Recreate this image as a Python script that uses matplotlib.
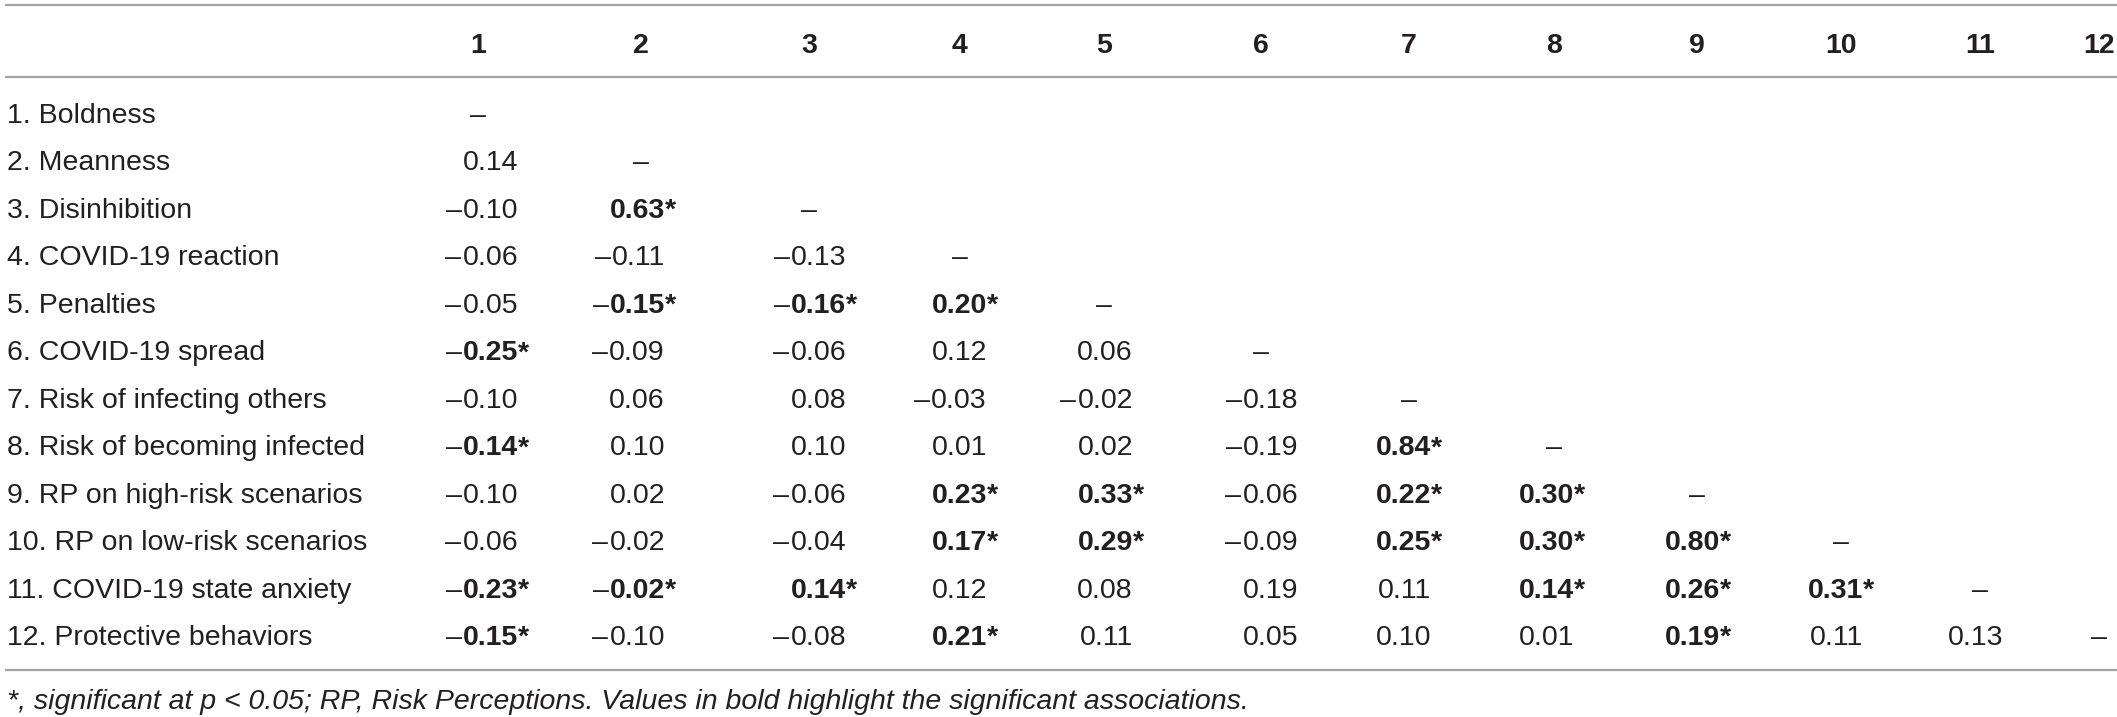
import matplotlib
matplotlib.use("Agg")
import matplotlib.pyplot as plt

# table content
row_labels = [
    "1. Boldness",
    "2. Meanness",
    "3. Disinhibition",
    "4. COVID-19 reaction",
    "5. Penalties",
    "6. COVID-19 spread",
    "7. Risk of infecting others",
    "8. Risk of becoming infected",
    "9. RP on high-risk scenarios",
    "10. RP on low-risk scenarios",
    "11. COVID-19 state anxiety",
    "12. Protective behaviors",
]
col_labels = [str(i) for i in range(1, 13)]

# lower triangle, row by row
corr = [
    [],
    [0.14],
    [-0.10, 0.63],
    [-0.06, -0.11, -0.13],
    [-0.05, -0.15, -0.16, 0.20],
    [-0.25, -0.09, -0.06, 0.12, 0.06],
    [-0.10, 0.06, 0.08, -0.03, -0.02, -0.18],
    [-0.14, 0.10, 0.10, 0.01, 0.02, -0.19, 0.84],
    [-0.10, 0.02, -0.06, 0.23, 0.33, -0.06, 0.22, 0.30],
    [-0.06, -0.02, -0.04, 0.17, 0.29, -0.09, 0.25, 0.30, 0.80],
    [-0.23, -0.02, 0.14, 0.12, 0.08, 0.19, 0.11, 0.14, 0.26, 0.31],
    [-0.15, -0.10, -0.08, 0.21, 0.11, 0.05, 0.10, 0.01, 0.19, 0.11, 0.13],
]
signif = [
    [],
    [0],
    [0, 1],
    [0, 0, 0],
    [0, 1, 1, 1],
    [1, 0, 0, 0, 0],
    [0, 0, 0, 0, 0, 0],
    [1, 0, 0, 0, 0, 0, 1],
    [0, 0, 0, 1, 1, 0, 1, 1],
    [0, 0, 0, 1, 1, 0, 1, 1, 1],
    [1, 1, 1, 0, 0, 0, 0, 1, 1, 1],
    [1, 0, 0, 1, 0, 0, 0, 0, 1, 0, 0],
]
footnote = ("*, significant at p < 0.05; RP, Risk Perceptions. "
            "Values in bold highlight the significant associations.")

# layout (pixels)
W, H = 2117, 717
col_center = [478, 641, 809, 960, 1104, 1261, 1409, 1554, 1697, 1841, 1980, 2099]
col_right = [518, 665, 846, 987, 1133, 1298, 1431, 1574, 1720, 1863, 2003, 2120]
label_x = 7
header_y = 43
row_y0, row_dy = 113, 47.45
lines_y = [5, 77, 670]
foot_y = 699
fs = 20.5
txt_color = "#231f20"
fam = ["Liberation Sans", "DejaVu Sans"]

fig = plt.figure(figsize=(W / 100, H / 100), dpi=100)
ax = fig.add_axes([0, 0, 1, 1])
ax.set_xlim(0, W)
ax.set_ylim(H, 0)
ax.axis("off")
renderer = fig.canvas.get_renderer()

for y in lines_y:
    ax.plot([5, W], [y, y], color="#a3a3a3", lw=1.6, solid_capstyle="butt")

base = 10  # baseline offset from visual middle

for j, c in enumerate(col_labels):
    ax.text(col_center[j], header_y + base, c, ha="center", va="baseline",
            fontsize=fs, fontweight="bold", color=txt_color, family=fam)

for i, lab in enumerate(row_labels):
    y = row_y0 + i * row_dy + base
    ax.text(label_x, y, lab, ha="left", va="baseline", fontsize=fs,
            color=txt_color, family=fam)
    # diagonal dash
    ax.text(col_center[i], y, "\u2013", ha="center", va="baseline",
            fontsize=fs, color=txt_color, family=fam)
    for j, v in enumerate(corr[i]):
        bold = signif[i][j] == 1
        xr = col_right[j]
        num = f"{abs(v):.2f}"
        t = ax.text(xr, y, num, ha="right", va="baseline", fontsize=fs,
                    fontweight="bold" if bold else "normal",
                    color=txt_color, family=fam)
        if v < 0:
            wpx = t.get_window_extent(renderer).width
            ax.text(xr - wpx - 1, y, "\u2013", ha="right", va="baseline",
                    fontsize=fs, color=txt_color, family=fam)
        if bold:
            ax.text(xr, y, "*", ha="left", va="baseline", fontsize=fs,
                    fontweight="bold", color=txt_color, family=fam)

ax.text(label_x, foot_y + base, footnote, ha="left", va="baseline",
        fontsize=fs, style="italic", color=txt_color, family=fam)

fig.savefig("out.png", dpi=100)
